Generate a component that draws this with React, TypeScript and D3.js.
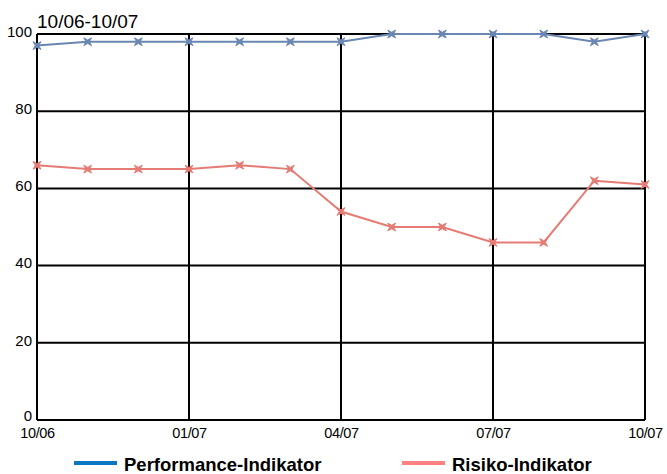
import { useEffect, useRef } from 'react';
import * as d3 from 'd3';

// monthly values 10/06 .. 10/07
const months = ['10/06', '11/06', '12/06', '01/07', '02/07', '03/07', '04/07', '05/07', '06/07', '07/07', '08/07', '09/07', '10/07'];
const performance = [97, 98, 98, 98, 98, 98, 98, 100, 100, 100, 100, 98, 100];
const risiko = [66, 65, 65, 65, 66, 65, 54, 50, 50, 46, 46, 62, 61];
const xTickLabels = ['10/06', '01/07', '04/07', '07/07', '10/07'];
const yTicks = [0, 20, 40, 60, 80, 100];

const width = 667;
const height = 474;
const marginLeft = 37;
const marginRight = 22;
const marginTop = 34;
const marginBottom = 54;

const font = '"Liberation Sans", Arial, sans-serif';

// 4-pointed star, pointing along the diagonals
const starPath = (r: number, ri: number) => {
  const pts: string[] = [];
  for (let i = 0; i < 8; i++) {
    const a = Math.PI / 4 + (i * Math.PI) / 4;
    const rr = i % 2 === 0 ? r : ri;
    pts.push(`${(Math.cos(a) * rr).toFixed(2)},${(Math.sin(a) * rr).toFixed(2)}`);
  }
  return 'M' + pts.join('L') + 'Z';
};

export default function App() {
  const gx = useRef<SVGGElement>(null);
  const gy = useRef<SVGGElement>(null);

  const x = d3.scalePoint<string>()
    .domain(months)
    .range([marginLeft, width - marginRight]);

  const y = d3.scaleLinear()
    .domain([0, 100])
    .range([height - marginBottom, marginTop]);

  const line = d3.line<number>()
    .x((_, i) => x(months[i]) ?? 0)
    .y(d => y(d));

  useEffect(() => {
    if (gx.current) {
      const ax = d3.axisBottom(x).tickValues(xTickLabels).tickSize(0).tickPadding(8);
      const g = d3.select(gx.current).call(ax);
      g.select('.domain').remove();
      g.selectAll('text')
        .attr('font-family', font)
        .attr('font-size', 14.5)
        .attr('letter-spacing', -0.4)
        .attr('fill', '#000');
    }
    if (gy.current) {
      const ay = d3.axisLeft(y).tickValues(yTicks).tickSize(0).tickPadding(5);
      const g = d3.select(gy.current).call(ay);
      g.select('.domain').remove();
      g.selectAll('text')
        .attr('font-family', font)
        .attr('font-size', 15)
        .attr('fill', '#000')
        .attr('dy', d => (d === 0 ? '0.05em' : '0.15em'));
    }
  }, []);

  const star = starPath(5.5, 1.7);

  return (
    <svg width={width} height={height} style={{ position: 'absolute', left: 0, top: 0 }}>
      <rect width={width} height={height} fill="#fff" />
      {/* grid */}
      {yTicks.map(t => (
        <line key={'h' + t} x1={marginLeft} x2={width - marginRight} y1={y(t)} y2={y(t)} stroke="#000" strokeWidth={2} />
      ))}
      {xTickLabels.map(m => (
        <line key={'v' + m} x1={x(m)} x2={x(m)} y1={marginTop} y2={height - marginBottom} stroke="#000" strokeWidth={2} />
      ))}

      <g ref={gx} transform={`translate(0,${height - marginBottom})`} />
      <g ref={gy} transform={`translate(${marginLeft},0)`} />

      <text x={marginLeft} y={28} fontFamily={font} fontSize={19} fill="#000">10/06-10/07</text>

      {/* series */}
      <path d={line(risiko) ?? ''} fill="none" stroke="#e57b74" strokeWidth={2} />
      {risiko.map((v, i) => (
        <path key={'r' + i} d={star} transform={`translate(${x(months[i])},${y(v)})`} fill="#e57b74" stroke="#e57b74" strokeWidth={1} />
      ))}
      <path d={line(performance) ?? ''} fill="none" stroke="#6a86b2" strokeWidth={2} />
      {performance.map((v, i) => (
        <path key={'p' + i} d={star} transform={`translate(${x(months[i])},${y(v)})`} fill="#6a86b2" stroke="#6a86b2" strokeWidth={1} />
      ))}

      {/* legend */}
      <g fontFamily={font} fontSize={18.5} fontWeight="bold" fill="#000">
        <line x1={74} x2={117} y1={463} y2={463} stroke="#0a78c0" strokeWidth={4} />
        <text x={124} y={471}>Performance-Indikator</text>
        <line x1={402} x2={445} y1={463} y2={463} stroke="#ff8080" strokeWidth={4} />
        <text x={452} y={471}>Risiko-Indikator</text>
      </g>
    </svg>
  );
}
